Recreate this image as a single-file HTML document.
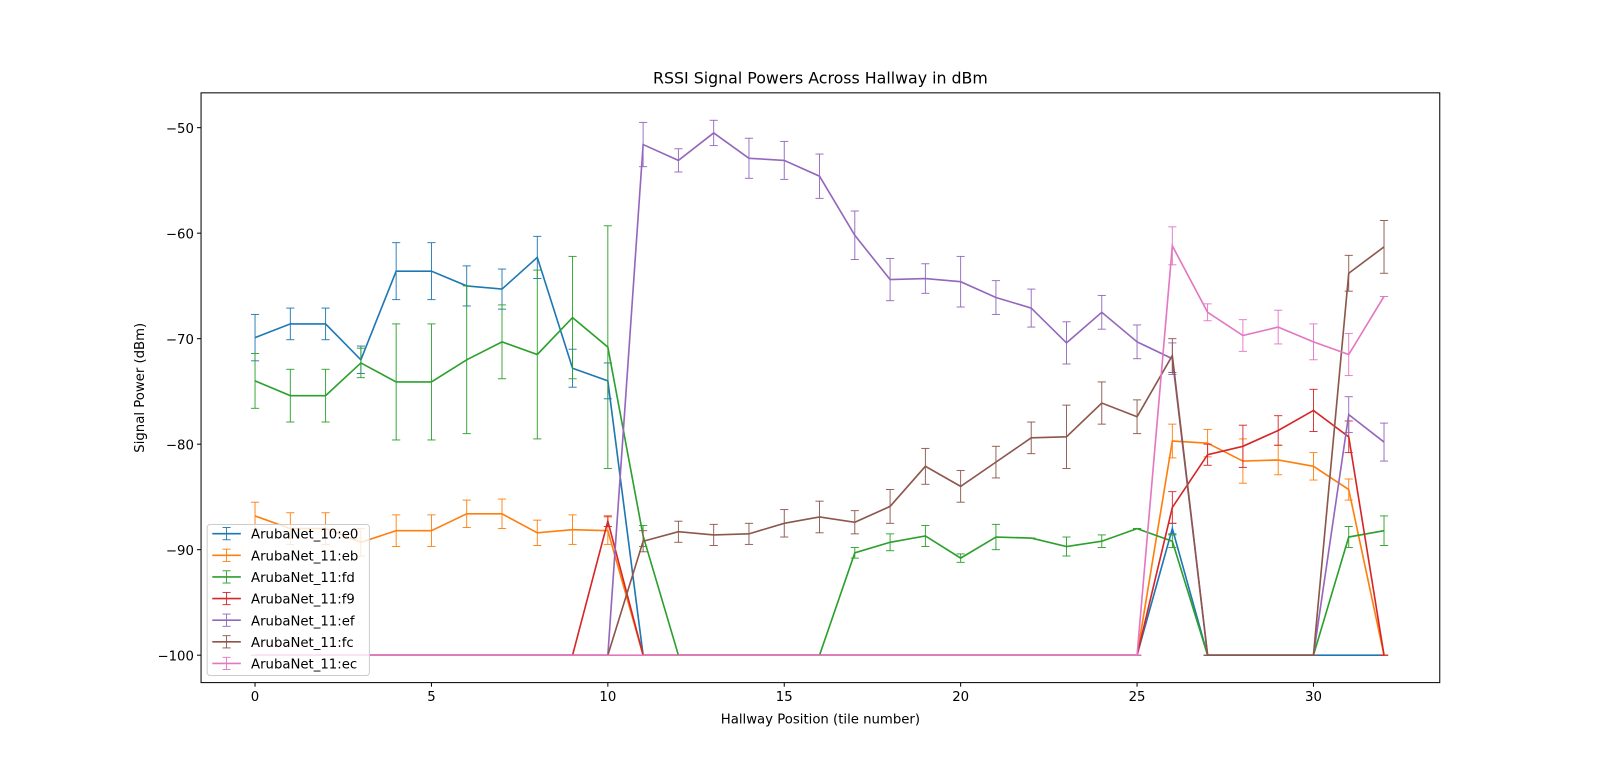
<!DOCTYPE html>
<html><head><meta charset="utf-8"><style>
body{margin:0;background:#fff;}
svg{display:block;font-family:"DejaVu Sans","Liberation Sans",sans-serif;}
</style></head><body>
<svg id="chart" width="1600" height="767" viewBox="0 0 1568 751.7" xmlns="http://www.w3.org/2000/svg">
<rect width="1568" height="752" fill="#fff"/>
<text x="804" y="82" text-anchor="middle" font-size="15.5">RSSI Signal Powers Across Hallway in dBm</text>
<text x="804" y="709" text-anchor="middle" font-size="13">Hallway Position (tile number)</text>
<text transform="translate(141,380) rotate(-90)" text-anchor="middle" font-size="13">Signal Power (dBm)</text>
<g id="plot"></g>
<rect x="197" y="91" width="1214" height="578" fill="none" stroke="#000" stroke-width="1"/>
<g id="legend"></g>
</svg>
<script>
const categories=[0,1,2,3,4,5,6,7,8,9,10,11,12,13,14,15,16,17,18,19,20,21,22,23,24,25,26,27,28,29,30,31,32];
const seriesNames=["ArubaNet_10:e0","ArubaNet_11:eb","ArubaNet_11:fd","ArubaNet_11:f9","ArubaNet_11:ef","ArubaNet_11:fc","ArubaNet_11:ec"];
const colors=["#1f77b4","#ff7f0e","#2ca02c","#d62728","#9467bd","#8c564b","#e377c2"];
const e0=[-69.9,-68.6,-68.6,-72,-63.6,-63.6,-65,-65.3,-62.3,-72.8,-74,-100,-100,-100,-100,-100,-100,-100,-100,-100,-100,-100,-100,-100,-100,-100,-88,-100,-100,-100,-100,-100,-100];
const e0Err=[2.2,1.5,1.5,1.3,2.7,2.7,1.9,1.9,2,1.8,1.7,0,0,0,0,0,0,0,0,0,0,0,0,0,0,0,0.5,0,0,0,0,0,0];
const eb=[-86.8,-88,-88,-89.3,-88.2,-88.2,-86.6,-86.6,-88.4,-88.1,-88.2,-100,-100,-100,-100,-100,-100,-100,-100,-100,-100,-100,-100,-100,-100,-100,-79.7,-79.9,-81.6,-81.5,-82.1,-84.3,-100];
const ebErr=[1.3,1.5,1.5,1.3,1.5,1.5,1.3,1.4,1.2,1.4,1.3,0,0,0,0,0,0,0,0,0,0,0,0,0,0,0,1.6,1.3,2.1,1.4,1.3,1,0];
const fd=[-74,-75.4,-75.4,-72.3,-74.1,-74.1,-72,-70.3,-71.5,-68,-70.8,-88.7,-100,-100,-100,-100,-100,-90.3,-89.3,-88.7,-90.8,-88.8,-88.9,-89.7,-89.2,-88,-89.2,-100,-100,-100,-100,-88.8,-88.2];
const fdErr=[2.6,2.5,2.5,1.4,5.5,5.5,7,3.5,8,5.8,11.5,1,0,0,0,0,0,0.5,0.8,1,0.4,1.2,0,0.9,0.6,0,0.6,0,0,0,0,1,1.4];
const f9=[-100,-100,-100,-100,-100,-100,-100,-100,-100,-100,-87.3,-100,-100,-100,-100,-100,-100,-100,-100,-100,-100,-100,-100,-100,-100,-100,-86,-81,-80.2,-78.7,-76.8,-79.3,-100];
const f9Err=[0,0,0,0,0,0,0,0,0,0,0.5,0,0,0,0,0,0,0,0,0,0,0,0,0,0,0,1.5,1,2,1.4,2,1.5,0];
const ef=[-100,-100,-100,-100,-100,-100,-100,-100,-100,-100,-100,-51.6,-53.1,-50.5,-52.9,-53.1,-54.6,-60.2,-64.4,-64.3,-64.6,-66.1,-67.1,-70.4,-67.5,-70.3,-71.9,-100,-100,-100,-100,-77.2,-79.8];
const efErr=[0,0,0,0,0,0,0,0,0,0,0,2.1,1.1,1.2,1.9,1.8,2.1,2.3,2,1.4,2.4,1.6,1.8,2,1.6,1.6,1.5,0,0,0,0,1.7,1.8];
const fc=[-100,-100,-100,-100,-100,-100,-100,-100,-100,-100,-100,-89.2,-88.3,-88.6,-88.5,-87.5,-86.9,-87.4,-85.9,-82.1,-84,-81.7,-79.4,-79.3,-76.1,-77.4,-71.6,-100,-100,-100,-100,-63.8,-61.3];
const fcErr=[0,0,0,0,0,0,0,0,0,0,0,1,1,1,1,1.3,1.5,1.1,1.6,1.7,1.5,1.5,1.5,3,2,1.6,1.6,0,0,0,0,1.7,2.5];
const ec=[-100,-100,-100,-100,-100,-100,-100,-100,-100,-100,-100,-100,-100,-100,-100,-100,-100,-100,-100,-100,-100,-100,-100,-100,-100,-100,-61.2,-67.5,-69.7,-68.9,-70.3,-71.5,-66];
const ecErr=[0,0,0,0,0,0,0,0,0,0,0,0,0,0,0,0,0,0,0,0,0,0,0,0,0,0,1.8,0.8,1.5,1.6,1.7,2,0];
const xTicks=[0,5,10,15,20,25,30];
const yTicks=[-100,-90,-80,-70,-60,-50];

const values=[e0,eb,fd,f9,ef,fc,ec];
const errs=[e0Err,ebErr,fdErr,f9Err,efErr,fcErr,ecErr];
const L=197,R=1411,T=91,B=669;
const xMin=-1.53,xMax=33.58,yMin=-102.6,yMax=-46.7;
const sx=v=>L+(v-xMin)/(xMax-xMin)*(R-L);
const sy=v=>B-(v-yMin)/(yMax-yMin)*(B-T);
const NS="http://www.w3.org/2000/svg";
function mk(tag,attrs,parent){const e=document.createElementNS(NS,tag);for(const k in attrs)e.setAttribute(k,attrs[k]);parent.appendChild(e);return e;}
const plot=document.getElementById('plot');
const svg=document.getElementById('chart');
xTicks.forEach(t=>{
  const g=mk('g',{},svg);
  
  
  mk('line',{x1:sx(t),x2:sx(t),y1:B,y2:B+4,stroke:'#000'},g);
  const tx=mk('text',{x:sx(t),y:B+18,'text-anchor':'middle','font-size':13},g);tx.textContent=t;
});
yTicks.forEach(t=>{
  const g=mk('g',{},svg);
  
  
  mk('line',{x1:L-4,x2:L,y1:sy(t),y2:sy(t),stroke:'#000'},g);
  const tx=mk('text',{x:L-7,y:sy(t)+5,'text-anchor':'end','font-size':13},g);tx.textContent='\u2212'+Math.abs(t);
});
values.forEach((vals,si)=>{
  const g=mk('g',{},plot);
  
  
  const c=colors[si];
  vals.forEach((v,i)=>{
    const x=sx(categories[i]),y1=sy(v-errs[si][i]),y2=sy(v+errs[si][i]);
    mk('line',{x1:x,x2:x,y1:y1,y2:y2,stroke:c,'stroke-width':0.9},g);
    mk('line',{x1:x-4,x2:x+4,y1:y1,y2:y1,stroke:c,'stroke-width':0.9},g);
    mk('line',{x1:x-4,x2:x+4,y1:y2,y2:y2,stroke:c,'stroke-width':0.9},g);
  });
  const pts=vals.map((v,i)=>sx(categories[i])+','+sy(v)).join(' ');
  const pl=mk('polyline',{points:pts,fill:'none',stroke:c,'stroke-width':1.6},g);
  
  
});
const leg=document.getElementById('legend');


mk('rect',{x:203,y:514,width:159,height:148,rx:3,fill:'#fff','fill-opacity':0.8,stroke:'#ccc'},leg);
seriesNames.forEach((n,i)=>{
  const g=mk('g',{},leg);
  
  
  const y=523+i*21.2,c=colors[i];
  mk('line',{x1:208,x2:236,y1:y,y2:y,stroke:c,'stroke-width':1.6},g);
  mk('line',{x1:222,x2:222,y1:y-6,y2:y+6,stroke:c,'stroke-width':0.9},g);
  mk('line',{x1:218,x2:226,y1:y-6,y2:y-6,stroke:c,'stroke-width':0.9},g);
  mk('line',{x1:218,x2:226,y1:y+6,y2:y+6,stroke:c,'stroke-width':0.9},g);
  const t=mk('text',{x:246,y:y+5,'font-size':13},g);t.textContent=n;
});
</script>
</body></html>
